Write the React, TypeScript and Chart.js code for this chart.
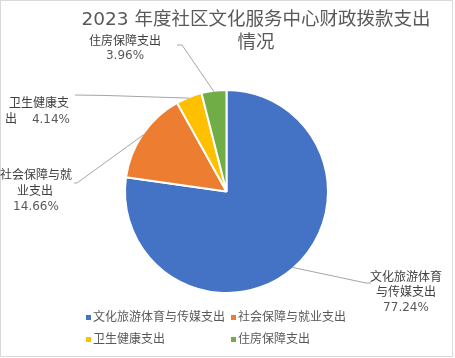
import React, { useEffect, useRef } from "react";
import { Chart, registerables } from "chart.js";

Chart.register(...registerables);

const categories = ["文化旅游体育与传媒支出", "社会保障与就业支出", "卫生健康支出", "住房保障支出"];
const values = [77.24, 14.66, 4.14, 3.96];
const colors = ["#4472C4", "#ED7D31", "#FFC000", "#70AD47"];
const titleLines = ["2023 年度社区文化服务中心财政拨款支出", "情况"];
const labelNameLines = [["文化旅游体育", "与传媒支出"], ["社会保障与就", "业支出"], ["卫生健康支", "出"], ["住房保障支出"]];

const FONT = '"DejaVu Sans", "Noto Sans CJK SC", sans-serif';

type TextPos = { x: number; y: number; align: CanvasTextAlign };
type LabelLayout = { name: TextPos[]; pct: TextPos; path: [number, number][] };

const labelLayouts: LabelLayout[] = [
  {
    name: [{ x: 406, y: 278, align: "center" }, { x: 406, y: 293, align: "center" }],
    pct: { x: 406, y: 308, align: "center" },
    path: [[366, 283], [371, 283]],
  },
  {
    name: [{ x: 36, y: 176, align: "center" }, { x: 35, y: 192, align: "center" }],
    pct: { x: 36, y: 207, align: "center" },
    path: [[77, 183], [74, 183]],
  },
  {
    name: [{ x: 39, y: 104, align: "center" }, { x: 5, y: 120, align: "left" }],
    pct: { x: 70, y: 120, align: "right" },
    path: [[107, 95.5], [75, 95]],
  },
  {
    name: [{ x: 125, y: 42, align: "center" }],
    pct: { x: 125, y: 56, align: "center" },
    path: [[182, 45], [177, 45]],
  },
];

const legendPos = [
  { x: 86, y: 318 },
  { x: 231, y: 318 },
  { x: 86, y: 340 },
  { x: 231, y: 340 },
];

const decorPlugin = {
  id: "decor",
  beforeDraw(chart: any) {
    const ctx = chart.ctx as CanvasRenderingContext2D;
    ctx.save();
    ctx.fillStyle = "#ffffff";
    ctx.fillRect(0, 0, chart.width, chart.height);
    ctx.strokeStyle = "#d9d9d9";
    ctx.lineWidth = 1;
    ctx.strokeRect(0.5, 0.5, 452, 356);
    ctx.restore();
  },
  afterDraw(chart: any) {
    const ctx = chart.ctx as CanvasRenderingContext2D;
    ctx.save();
    // title
    ctx.fillStyle = "#595959";
    ctx.font = `18.5px ${FONT}`;
    ctx.textAlign = "center";
    ctx.textBaseline = "middle";
    ctx.fillText(titleLines[0], 256, 20);
    ctx.fillText(titleLines[1], 256, 43);

    // leader lines + labels
    const meta = chart.getDatasetMeta(0);
    meta.data.forEach((arc: any, i: number) => {
      const p = arc.getProps(["x", "y", "startAngle", "endAngle", "outerRadius"], true);
      const mid = (p.startAngle + p.endAngle) / 2;
      const r = p.outerRadius - 1;
      const sx = p.x + Math.cos(mid) * r;
      const sy = p.y + Math.sin(mid) * r;
      const lay = labelLayouts[i];
      ctx.strokeStyle = "#a6a6a6";
      ctx.lineWidth = 1;
      ctx.beginPath();
      ctx.moveTo(sx, sy);
      lay.path.forEach(([px, py]) => ctx.lineTo(px, py));
      ctx.stroke();

      ctx.textBaseline = "middle";
      ctx.font = `12px ${FONT}`;
      ctx.fillStyle = "#404040";
      labelNameLines[i].forEach((t, k) => {
        const pos = lay.name[k];
        ctx.textAlign = pos.align;
        ctx.fillText(t, pos.x, pos.y);
      });
      ctx.fillStyle = "#595959";
      ctx.textAlign = lay.pct.align;
      ctx.fillText(values[i].toFixed(2) + "%", lay.pct.x, lay.pct.y);
    });

    // legend
    ctx.font = `12px ${FONT}`;
    ctx.textAlign = "left";
    ctx.textBaseline = "middle";
    categories.forEach((c, i) => {
      const lp = legendPos[i];
      ctx.fillStyle = colors[i];
      ctx.fillRect(lp.x, lp.y - 3, 5, 5);
      ctx.fillStyle = "#595959";
      ctx.fillText(c, lp.x + 7, lp.y);
    });
    ctx.restore();
  },
};

export default function App() {
  const ref = useRef<HTMLCanvasElement | null>(null);
  useEffect(() => {
    if (!ref.current) return;
    const chart = new Chart(ref.current, {
      type: "pie",
      data: {
        labels: categories,
        datasets: [
          {
            data: values,
            backgroundColor: colors,
            borderColor: "#ffffff",
            borderWidth: 2,
          },
        ],
      },
      options: {
        responsive: false,
        animation: false,
        devicePixelRatio: 1,
        radius: 101.5,
        layout: { padding: { left: 126, right: 128, top: 91, bottom: 66 } },
        plugins: {
          legend: { display: false },
          title: { display: false },
          tooltip: { enabled: false },
        },
      } as any,
      plugins: [decorPlugin],
    });
    return () => chart.destroy();
  }, []);
  return (
    <div style={{ position: "fixed", left: 0, top: 0, width: 455, height: 358 }}>
      <canvas ref={ref} width={455} height={358} style={{ display: "block" }} />
    </div>
  );
}
